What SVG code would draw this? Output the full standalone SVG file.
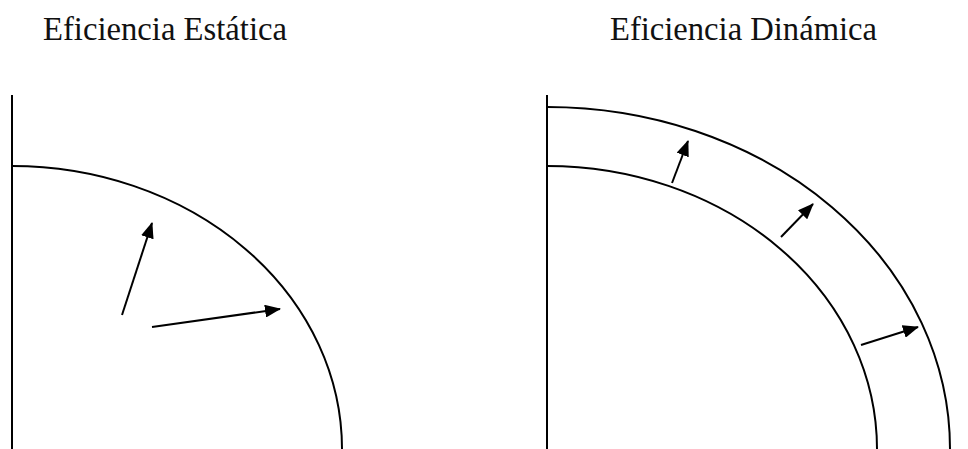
<svg xmlns="http://www.w3.org/2000/svg" width="968" height="449" viewBox="0 0 968 449">
<style>
.t{font-family:"Liberation Serif","DejaVu Serif",serif;font-size:33px;fill:#111}
.ln{fill:none;stroke:#000;stroke-width:2}
</style>
<defs>
<marker id="ah" viewBox="0 0 16 13" refX="15" refY="6.5" markerWidth="16" markerHeight="13" markerUnits="userSpaceOnUse" orient="auto">
<path d="M0,0 L16,6.5 L0,13 z" fill="#000"/>
</marker>
</defs>
<g id="title-static"><text class="t" x="43" y="40" textLength="244" lengthAdjust="spacingAndGlyphs">Eficiencia Estática</text></g>
<g id="title-dynamic"><text class="t" x="610" y="40" textLength="267" lengthAdjust="spacingAndGlyphs">Eficiencia Dinámica</text></g>
<g id="static-axis"><line class="ln" x1="12" y1="95" x2="12" y2="449"/></g>
<g id="static-frontier"><path class="ln" d="M12,166 A330,283 0 0 1 342,449"/></g>
<g id="dynamic-axis"><line class="ln" x1="547" y1="95" x2="547" y2="449"/></g>
<g id="dynamic-frontier-inner"><path class="ln" d="M547,166 A330,283 0 0 1 877,449"/></g>
<g id="dynamic-frontier-outer"><path class="ln" d="M547,107 A403,342 0 0 1 950,449"/></g>
<g id="connectors">
<line class="ln" x1="122" y1="315" x2="152" y2="223" marker-end="url(#ah)"/>
<line class="ln" x1="152" y1="327" x2="280" y2="309" marker-end="url(#ah)"/>
<line class="ln" x1="672" y1="183" x2="688" y2="141" marker-end="url(#ah)"/>
<line class="ln" x1="781" y1="237" x2="813" y2="204" marker-end="url(#ah)"/>
<line class="ln" x1="861" y1="345" x2="918" y2="327" marker-end="url(#ah)"/>
</g>
</svg>
